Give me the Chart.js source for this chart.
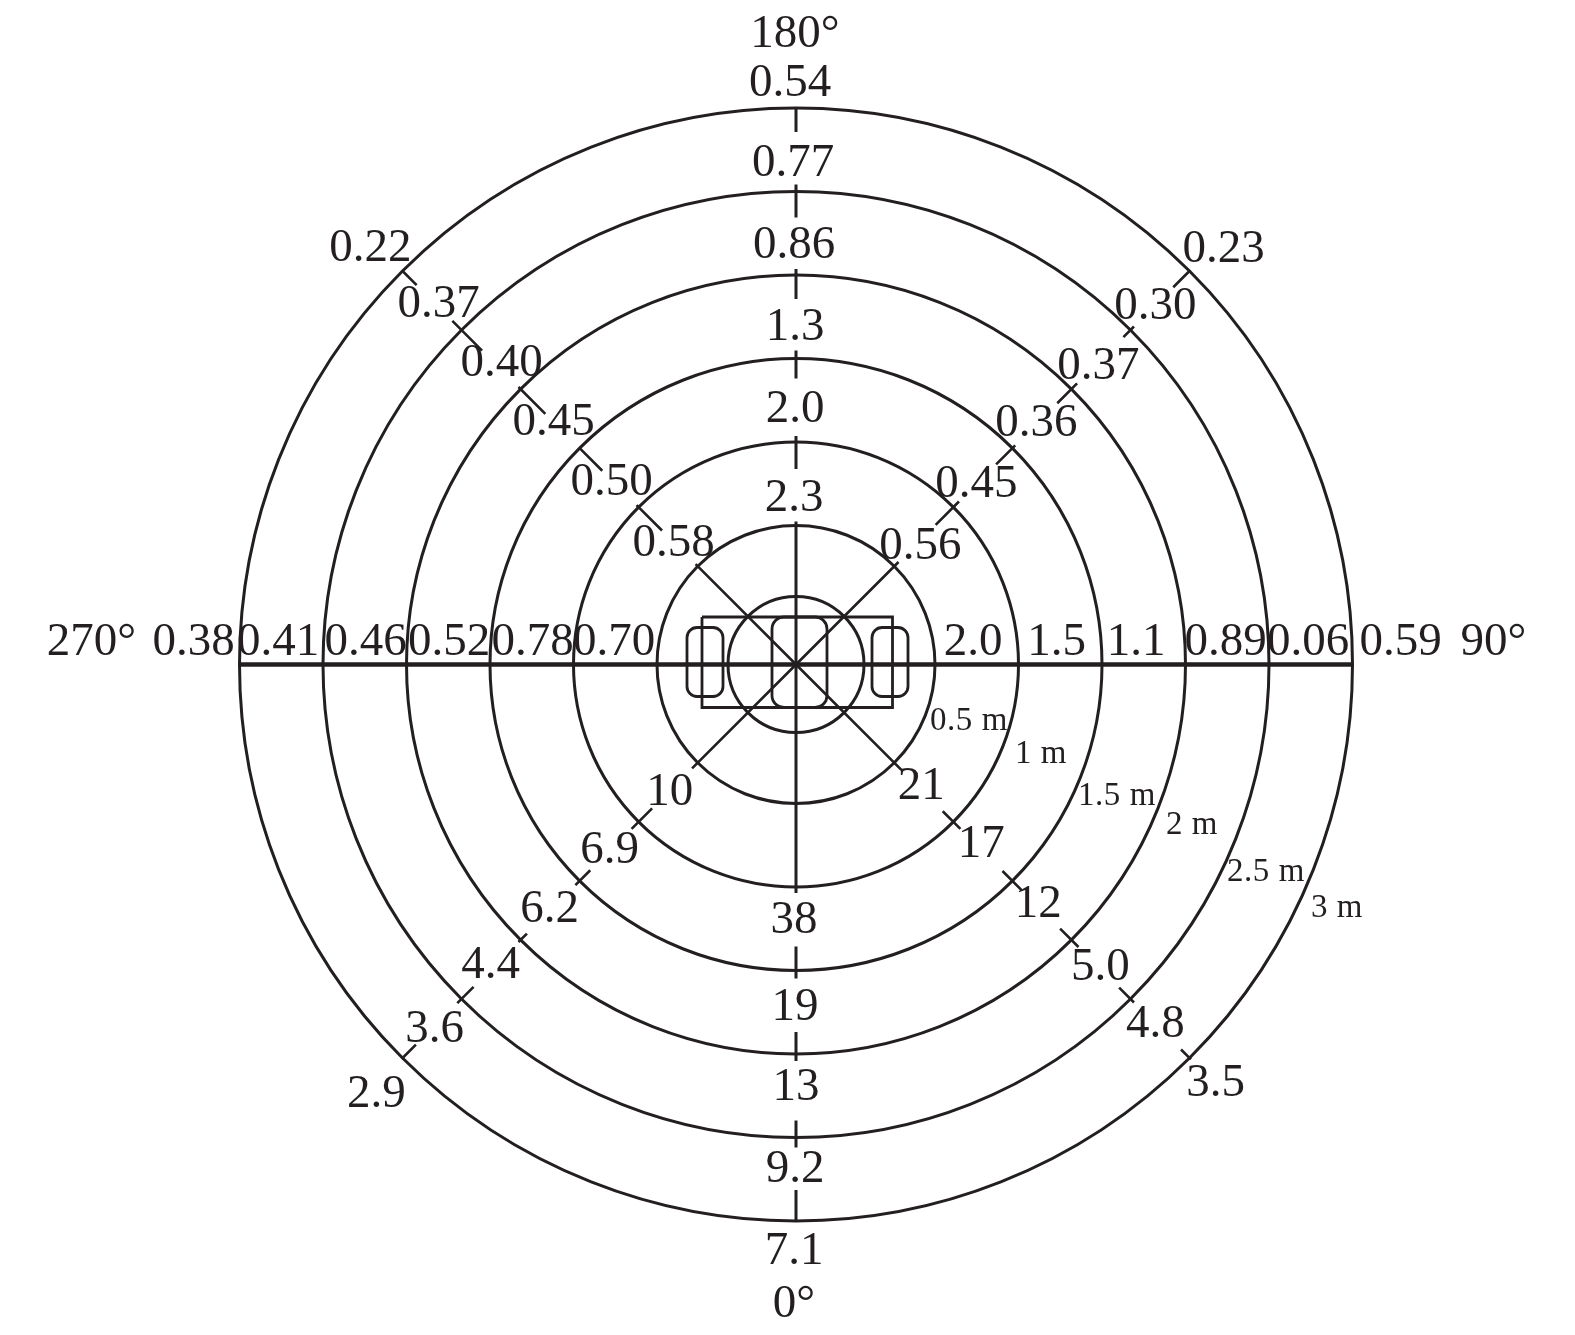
<!DOCTYPE html>
<html>
<head>
<meta charset="utf-8">
<title>Illuminance polar diagram</title>
<script src="https://cdn.jsdelivr.net/npm/chart.js@4"></script>
<style>
  html, body { margin: 0; padding: 0; background: #fff; }
  canvas { display: block; }
</style>
</head>
<body>
<canvas id="myChart" width="1575" height="1335"></canvas>
<script>
// measured values, one list per direction, from the 0.5 m ring out to the 3 m ring
const distances = [0.5, 1, 1.5, 2, 2.5, 3];
const distanceLabels = ['0.5 m', '1 m', '1.5 m', '2 m', '2.5 m', '3 m'];
const angles = [0, 45, 90, 135, 180, 225, 270, 315];
const angleLabels = ['0°', '90°', '180°', '270°'];

const values0 = [null, '38', '19', '13', '9.2', '7.1'];
const values45 = ['21', '17', '12', '5.0', '4.8', '3.5'];
const values90 = ['2.0', '1.5', '1.1', '0.89', '0.06', '0.59'];
const values135 = ['0.56', '0.45', '0.36', '0.37', '0.30', '0.23'];
const values180 = ['2.3', '2.0', '1.3', '0.86', '0.77', '0.54'];
const values225 = ['0.58', '0.50', '0.45', '0.40', '0.37', '0.22'];
const values270 = ['0.70', '0.78', '0.52', '0.46', '0.41', '0.38'];
const values315 = ['10', '6.9', '6.2', '4.4', '3.6', '2.9'];
const allValues = [values0, values45, values90, values135, values180, values225, values270, values315];

// plot units are pixels, a ring sits at carEdge + unitsPerMetre * distance
const carEdge = 55.5;
const unitsPerMetre = 167;
const innerCircle = 68;
const ringRadius = d => carEdge + unitsPerMetre * d;

// label offsets [dx, dy] from the ring crossing, same order as the values
const labelOffsets = [
  [null, [-2, 46], [-1, 49], [0, 46], [-1, 44], [-2, 43]],
  [[27, 36], [28, 35], [26, 36], [29, 40], [25, 38], [26, 38]],
  [[38, -10], [38, -10], [34, -10], [40, -10], [39, -10], [48, -10]],
  [[26, -7], [23, -10], [24, -12], [27, -10], [25, -11], [34, -9]],
  [[-2, -15], [-1, -20], [-1, -19], [-2, -17], [-3, -16], [-6, -12]],
  [[-24, -10], [-27, -12], [-26, -13], [-19, -13], [-23, -13], [-32, -10]],
  [[-43, -10], [-41, -10], [-41, -10], [-41, -10], [-45, -10], [-46, -10]],
  [[-28, 42], [-29, 41], [-30, 41], [-30, 38], [-27, 43], [-26, 49]]
];
const angleLabelOffsets = [[-2, 96], [141, -10], [-1, -61], [-148, -10]];
// text centre of the ring names, relative to the centre of the plot
const distanceLabelPos = [[173, -65], [245, -98], [321, -140], [396, -169], [470, -216], [541, -252]];

// how far each tick runs past the ring [outwards, inwards]; null = no tick
const tickExtents = [
  [null, [6, 222], [8, 24], [7, 22], [10, 17], [0, 31]],
  [[10, 139], [10, 15], [13, 14], [10, 16], [5, 16], [2, 12]],
  [],
  [[6, 139], [8, 25], [4, 23], [8, 20], [5, 10], [1, 23]],
  [[4, 139], [6, 27], [8, 20], [6, 24], [7, 26], [0, 24]],
  [[3, 139], [3, 33], [0, 32], [3, 35], [13, 29], [1, 20]],
  [],
  [[8, 139], [10, 19], [6, 15], [3, 9], [6, 17], [1, 19]]
];

// car outline as seen from above
const carBody = [[-94, 47.5], [96.5, 47.5], [96.5, -43], [-94, -43], [-94, 47.5]];
const carRounded = [
  { left: -109, right: -73, top: 37, bottom: -32, radius: 10 },
  { left: 76, right: 112, top: 37, bottom: -32, radius: 10 },
  { left: -24, right: 31, top: 47.5, bottom: -43, radius: 12 }
];

const inkColor = '#231f20';

function polar(angle, r) {
  const a = angle * Math.PI / 180;
  return { x: r * Math.sin(a), y: -r * Math.cos(a) };
}

function tickPoints(dirIndex) {
  const pts = [];
  tickExtents[dirIndex].forEach((ext, i) => {
    if (!ext) return;
    const r = ringRadius(distances[i]);
    pts.push(polar(angles[dirIndex], r + ext[0]));
    pts.push(polar(angles[dirIndex], r - ext[1]));
    pts.push({ x: 0, y: null });
  });
  return pts;
}

const lineStyle = (width) => ({
  showLine: true, spanGaps: false, pointRadius: 0, borderColor: inkColor,
  borderWidth: width, backgroundColor: 'transparent', clip: false
});

const datasets = [];

// rings: one point on the origin per ring, radius goes through the x scale
datasets.push({
  label: 'rings',
  data: [innerCircle].concat(distances.map(ringRadius)).map(r => ({ x: 0, y: 0, r: r })),
  showLine: false,
  clip: false,
  pointBackgroundColor: 'transparent',
  pointBorderColor: inkColor,
  pointBorderWidth: 3,
  pointRadius: ctx => {
    const xs = ctx.chart.scales.x;
    return xs.getPixelForValue(ctx.raw.r) - xs.getPixelForValue(0);
  }
});

// ticks and spokes
angles.forEach((angle, i) => {
  if (tickExtents[i].length === 0) return;
  datasets.push(Object.assign({ label: angle + ' deg', data: tickPoints(i) },
    lineStyle(angle % 90 === 0 ? 3 : 2.6)));
});

// thick horizontal axis
datasets.push(Object.assign({
  label: 'axis',
  data: [polar(270, ringRadius(3)), polar(90, ringRadius(3))]
}, lineStyle(4.4)));

datasets.push(Object.assign({
  label: 'car',
  data: carBody.map(p => ({ x: p[0], y: p[1] }))
}, lineStyle(2.8)));

const roundedPartsPlugin = {
  id: 'roundedParts',
  afterDatasetsDraw(chart) {
    const { ctx, scales: { x, y } } = chart;
    ctx.save();
    ctx.strokeStyle = inkColor;
    ctx.lineWidth = 2.8;
    carRounded.forEach(p => {
      const px = x.getPixelForValue(p.left);
      const py = y.getPixelForValue(p.top);
      ctx.beginPath();
      ctx.roundRect(px, py, x.getPixelForValue(p.right) - px, y.getPixelForValue(p.bottom) - py, p.radius);
      ctx.stroke();
    });
    ctx.restore();
  }
};

const textPlugin = {
  id: 'textLabels',
  afterDatasetsDraw(chart) {
    const { ctx, scales: { x, y } } = chart;
    ctx.save();
    ctx.fillStyle = inkColor;
    ctx.textAlign = 'center';
    ctx.textBaseline = 'alphabetic';
    ctx.font = '47px "Liberation Serif"';
    allValues.forEach((list, i) => {
      list.forEach((text, j) => {
        if (text === null) return;
        const p = polar(angles[i], ringRadius(distances[j]));
        const off = labelOffsets[i][j];
        ctx.fillText(text, x.getPixelForValue(p.x) + off[0], y.getPixelForValue(p.y) + off[1]);
      });
    });
    angleLabels.forEach((text, i) => {
      const p = polar(i * 90, ringRadius(3));
      const off = angleLabelOffsets[i];
      ctx.fillText(text, x.getPixelForValue(p.x) + off[0], y.getPixelForValue(p.y) + off[1]);
    });
    ctx.font = '33px "Liberation Serif"';
    ctx.letterSpacing = '0.6px';
    distanceLabels.forEach((text, i) => {
      const pos = distanceLabelPos[i];
      ctx.fillText(text, x.getPixelForValue(pos[0]), y.getPixelForValue(pos[1]));
    });
    ctx.restore();
  }
};

document.addEventListener('DOMContentLoaded', function() {
  const ctx = document.getElementById('myChart').getContext('2d');
  new Chart(ctx, {
    type: 'scatter',
    data: { datasets: datasets },
    options: {
      responsive: false,
      animation: false,
      events: [],
      layout: { padding: 0 },
      plugins: { legend: { display: false }, tooltip: { enabled: false } },
      scales: {
        x: { type: 'linear', display: false, min: -796, max: 779 },
        y: { type: 'linear', display: false, min: -670.5, max: 664.5 }
      }
    },
    plugins: [roundedPartsPlugin, textPlugin]
  });
});
</script>
</body>
</html>
